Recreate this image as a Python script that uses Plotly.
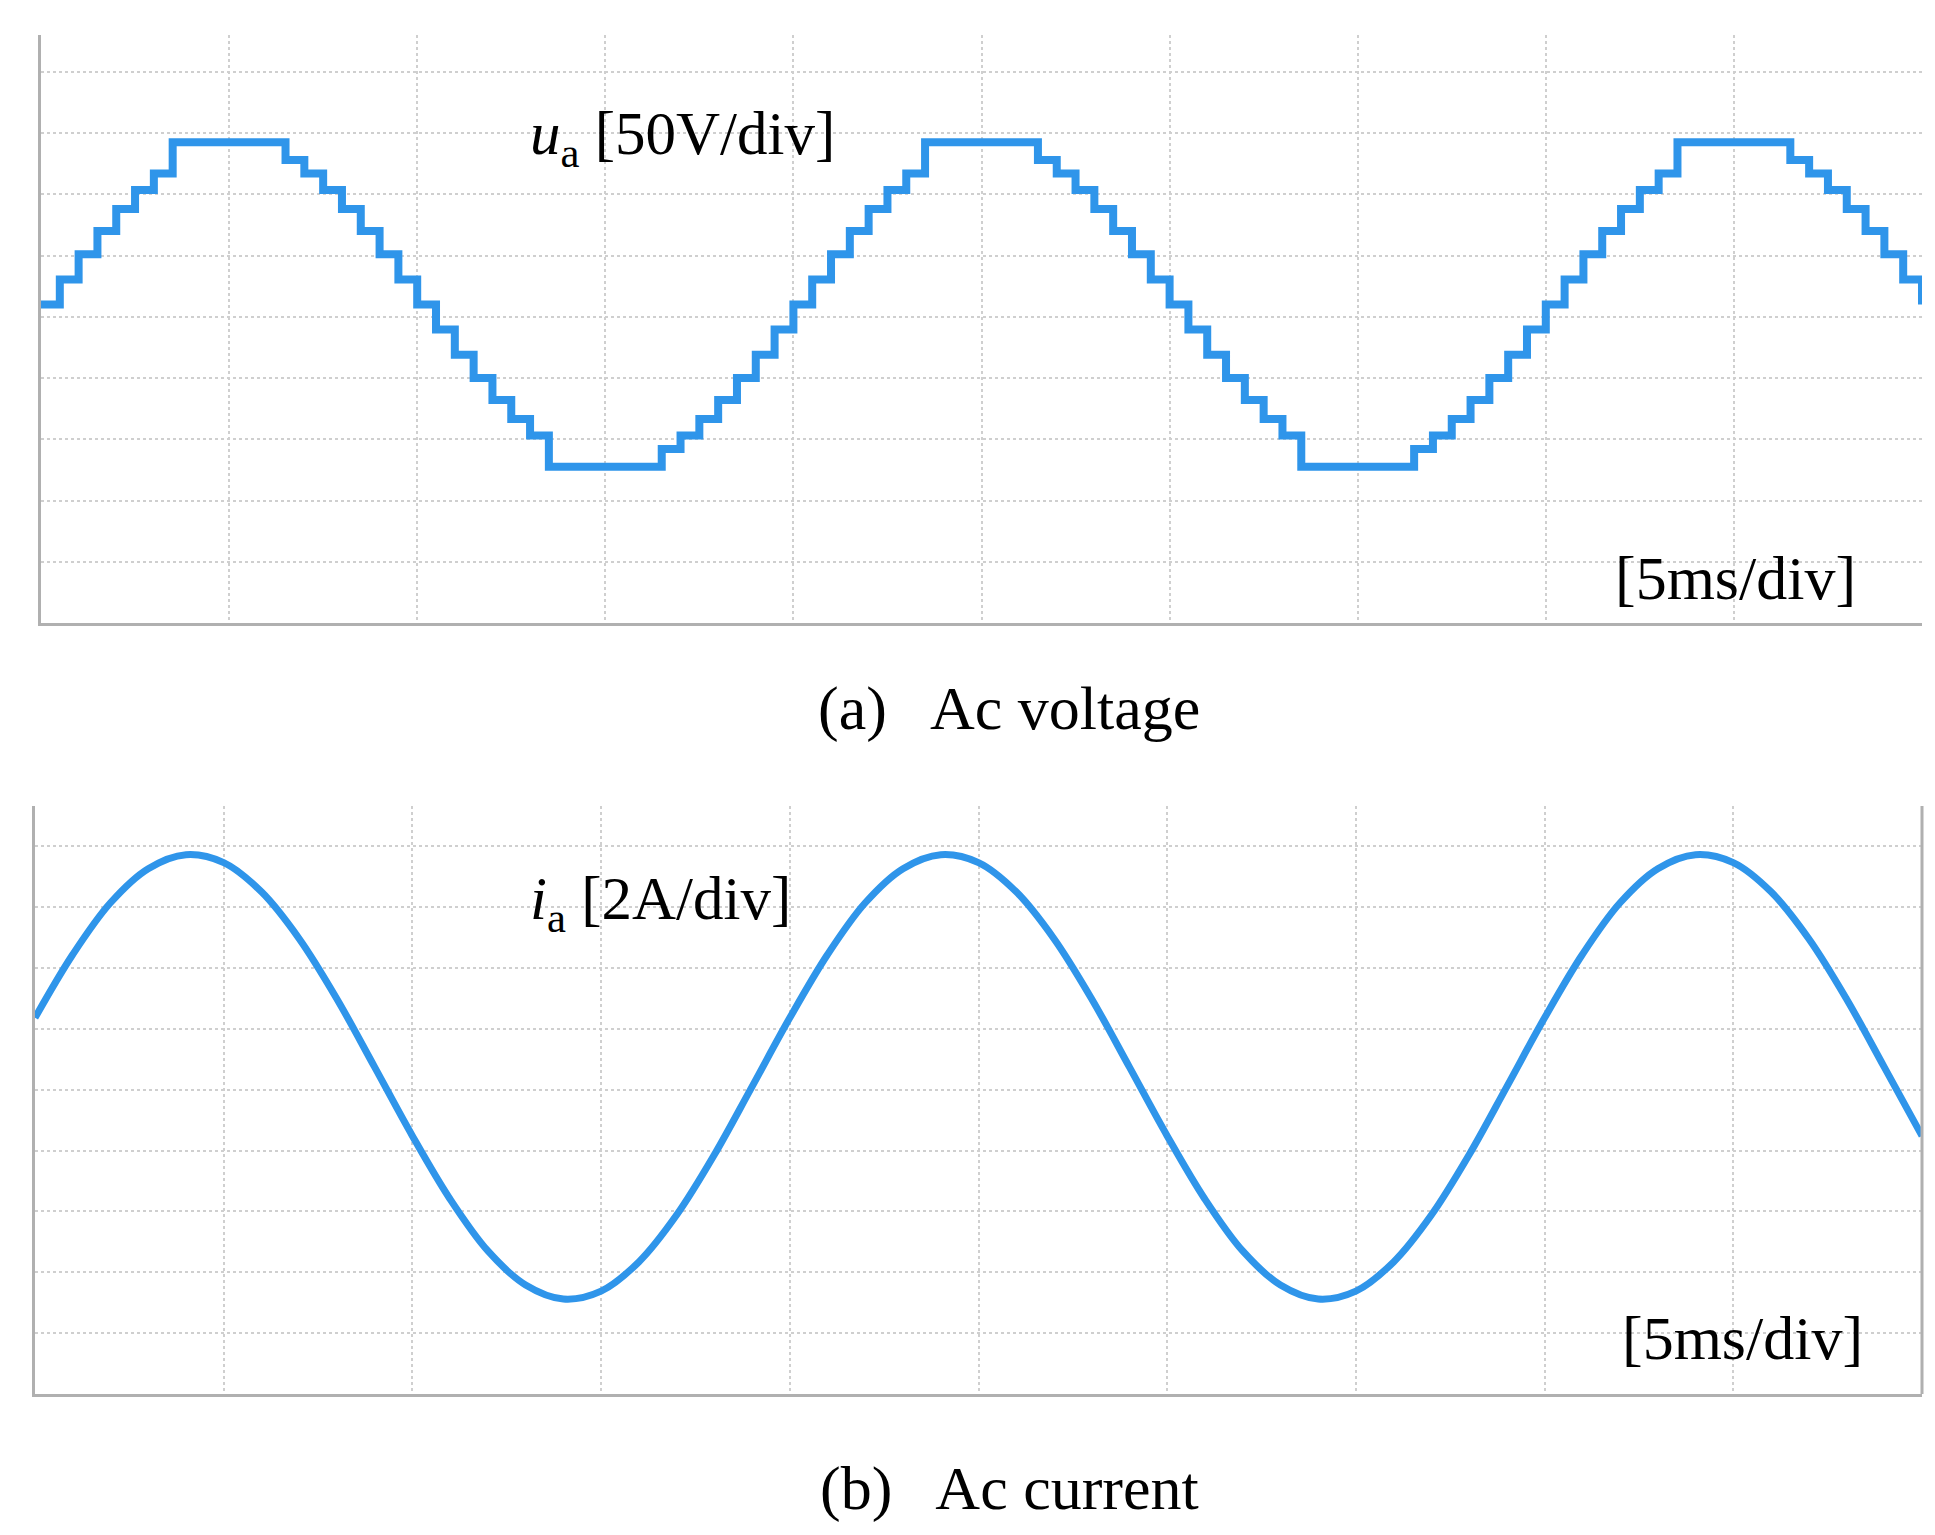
import plotly.graph_objects as go

# one period (20 ms) of the staircase voltage, read every 0.5 ms, in divisions
u_period = [0.2, 0.61, 1.02, 1.40, 1.76, 2.07, 2.34, 2.85, 2.85, 2.85, 2.85,
            2.85, 2.85, 2.56, 2.34, 2.07, 1.76, 1.40, 1.02, 0.61,
            0.2, -0.21, -0.62, -1.0, -1.36, -1.67, -1.94, -2.45, -2.45, -2.45,
            -2.45, -2.45, -2.45, -2.16, -1.94, -1.67, -1.36, -1.0, -0.62, -0.21]
u_step_ms = 0.5

# one period of the current, read every 1 ms, in divisions
i_period = [1.18, 2.22, 3.07, 3.63, 3.86, 3.73, 3.25, 2.48, 1.49, 0.37,
            -0.76, -1.80, -2.65, -3.21, -3.44, -3.31, -2.83, -2.06, -1.07, 0.05]
i_step_ms = 1.0

t_end = 50  # 10 div x 5 ms

def repeat_period(vals, step):
    n = int(round(t_end / step)) + 1
    t = [k * step for k in range(n)]
    v = [vals[k % len(vals)] for k in range(n)]
    return t, v

tu, u = repeat_period(u_period, u_step_ms)
ti, i = repeat_period(i_period, i_step_ms)

W, H = 1935, 1535
def px(x): return x / W
def py(y): return 1 - y / H

blue = "#2f95ea"
grid = "#cfcfcf"
serif = "Liberation Serif"

fig = go.Figure()
fig.add_trace(go.Scatter(x=tu, y=u, mode="lines", line=dict(color=blue, width=8, shape="hv"),
                         xaxis="x", yaxis="y", showlegend=False))
fig.add_trace(go.Scatter(x=ti, y=i, mode="lines", line=dict(color=blue, width=7, shape="spline"),
                         xaxis="x2", yaxis="y2", showlegend=False))

ax_common = dict(showgrid=True, gridcolor=grid, griddash="dot", gridwidth=2,
                 showticklabels=False, ticks="", zeroline=False,
                 showline=True, linecolor="#b0b0b0", linewidth=3)

fig.update_layout(
    width=W, height=H, margin=dict(l=0, r=0, t=0, b=0),
    paper_bgcolor="white", plot_bgcolor="white",
    xaxis=dict(domain=[px(33), px(1914)], range=[0, 50], dtick=5, anchor="y", **ax_common),
    yaxis=dict(domain=[py(615), py(27)], range=[-5, 4.6], dtick=1, anchor="x", **ax_common),
    xaxis2=dict(domain=[px(27), px(1914)], range=[0, 50], dtick=5, anchor="y2", **ax_common),
    yaxis2=dict(domain=[py(1386), py(798)], range=[-5, 4.66], dtick=1, anchor="x2", **ax_common),
)
# right border of the lower screen
fig.add_shape(type="line", xref="paper", yref="paper", x0=px(1914), x1=px(1914),
              y0=py(1386), y1=py(798), line=dict(color="#b0b0b0", width=3))

def label(x, y, text, size=62, anchor="left"):
    fig.add_annotation(x=px(x), y=py(y), xref="paper", yref="paper", text=text,
                       showarrow=False, xanchor=anchor, yanchor="middle",
                       font=dict(family=serif, size=size, color="black"))

label(520, 130, "<i>u</i><sub>a</sub> [50V/div]", size=61)
label(1605, 570, "[5ms/div]")
label(1001, 700, "(a)   Ac voltage", anchor="center")
label(520, 895, "<i>i</i><sub>a</sub> [2A/div]", size=61)
label(1612, 1330, "[5ms/div]")
label(1001, 1480, "(b)   Ac current", anchor="center")

fig.write_html("out.html")
